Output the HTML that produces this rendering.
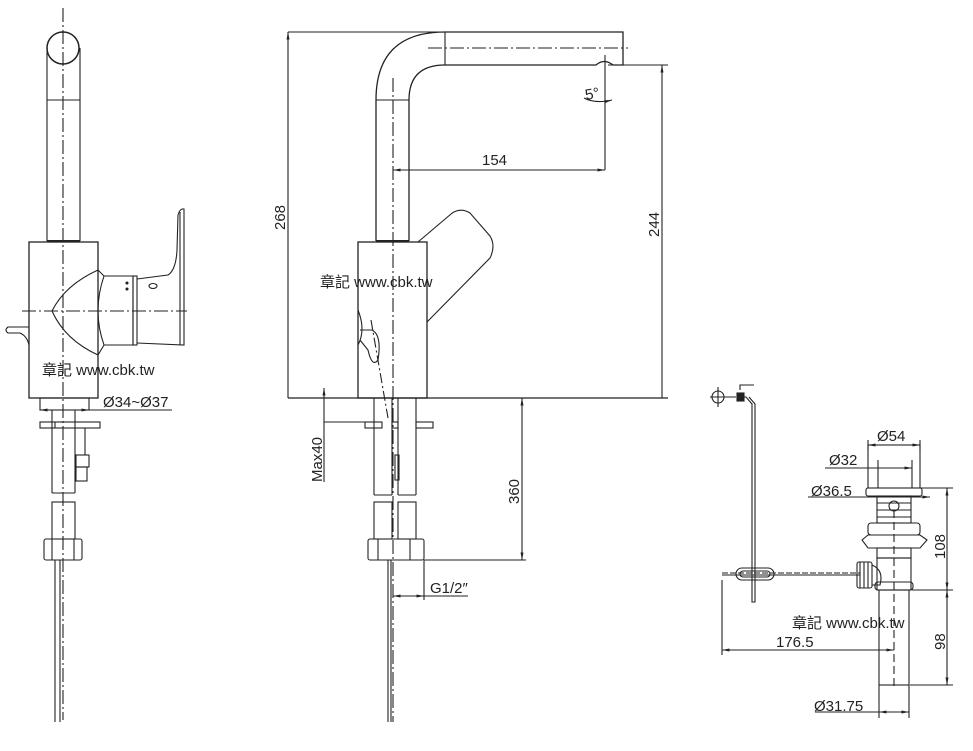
<!DOCTYPE html>
<html><head><meta charset="utf-8"><style>
html,body{margin:0;padding:0;background:#fff}
svg{display:block}
text{font-family:"Liberation Sans","Noto Sans CJK TC",sans-serif;fill:#222}
</style></head><body>
<svg width="973" height="751" viewBox="0 0 973 751" xmlns="http://www.w3.org/2000/svg">
<defs>
<marker id="a" viewBox="0 0 10 10" refX="10" refY="5" markerWidth="7" markerHeight="7" orient="auto-start-reverse"><path d="M0,3 L10,5 L0,7 z" fill="#222"/></marker>
</defs>
<g fill="none" stroke="#222" stroke-width="1.1">
<!-- LEFT VIEW -->
<circle cx="63" cy="48" r="16" stroke-width="1.5"/>
<line x1="47" y1="48" x2="47" y2="241"/><line x1="80" y1="48" x2="80" y2="241"/>
<line x1="47" y1="100" x2="80" y2="100"/>
<line x1="47" y1="241" x2="80" y2="241" stroke-width="2"/>
<rect x="29" y="242" width="69" height="156" stroke-width="1.3"/>
<line x1="63" y1="8" x2="63" y2="720" stroke-dasharray="14,3,2,3"/>
<line x1="22" y1="311" x2="187" y2="311" stroke-dasharray="14,3,2,3"/>
<path d="M98,270 Q65,285 52,311 Q65,340 98,355"/>
<path d="M98,270 L104,276 L133,276 L133,345 L104,345 L98,355"/>
<path d="M104,276 Q92,311 104,345"/>
<rect x="133" y="276" width="4" height="69"/>
<path d="M137,279 L168,275 Q176,270 177,250 L178,215 Q180,208 184,209 L184,345 L137,343"/>
<path d="M180,212 L180,345"/>
<ellipse cx="153" cy="286" rx="4" ry="2.5"/>
<circle cx="127" cy="283" r="1" fill="#222"/><circle cx="127" cy="289" r="1" fill="#222"/>
<path d="M29,327 L8,327 Q4,330 8,333 L20,333 Q27,336 29,345"/>
<rect x="40" y="398" width="49" height="12"/>
<rect x="40" y="422" width="60" height="6"/><line x1="55" y1="422" x2="55" y2="428"/>
<line x1="52" y1="410" x2="52" y2="493"/><line x1="75" y1="410" x2="75" y2="493"/><line x1="52" y1="493" x2="75" y2="493"/>
<line x1="85" y1="428" x2="85" y2="455"/>
<rect x="76" y="455" width="13" height="12"/><rect x="76" y="467" width="11" height="14"/>
<rect x="52" y="502" width="23" height="37"/>
<rect x="44" y="539" width="38" height="21" rx="2"/><line x1="52" y1="539" x2="52" y2="560"/><line x1="74" y1="539" x2="74" y2="560"/>
<line x1="55" y1="560" x2="55" y2="722"/><line x1="60" y1="560" x2="60" y2="722"/>
<line x1="40" y1="410" x2="89" y2="410" marker-start="url(#a)" marker-end="url(#a)"/>
<line x1="89" y1="410" x2="172" y2="410"/>
<!-- MIDDLE VIEW -->
<line x1="288" y1="32" x2="445" y2="32"/>
<path d="M376,241 L376,100 Q376,32 445,32 L623,32 L623,65 L613,65 Q604,58 596,65 L445,65 Q409,65 409,100 L409,241" stroke-width="1.3"/>
<line x1="445" y1="32" x2="445" y2="65"/>
<line x1="376" y1="100" x2="409" y2="100"/>
<line x1="376" y1="241" x2="409" y2="241" stroke-width="2"/>
<line x1="428" y1="48" x2="628" y2="48" stroke-dasharray="14,3,2,3"/>
<line x1="393" y1="78" x2="393" y2="722" stroke-dasharray="14,3,2,3"/>
<rect x="358" y="242" width="69" height="156" stroke-width="1.3"/>
<path d="M418,242 L451,214 Q460,207 470,213 L490,236 Q496,246 490,258 L427,322"/>
<path d="M358,310 Q366,330 358,345 M360,330 L372,330 Q382,335 378,360 Q372,368 368,350 L360,340"/>
<line x1="371" y1="320" x2="388" y2="418" stroke-dasharray="10,3,2,3"/>
<line x1="288" y1="398" x2="668" y2="398" stroke-width="1.2"/>
<line x1="288" y1="398" x2="288" y2="32" marker-end="url(#a)"/>
<line x1="605" y1="55" x2="605" y2="170"/>
<line x1="393" y1="170" x2="605" y2="170" marker-start="url(#a)" marker-end="url(#a)"/>
<path d="M584,98 Q595,104 612,100" marker-end="url(#a)"/>
<line x1="608" y1="65" x2="668" y2="65"/>
<line x1="662" y1="398" x2="662" y2="65" marker-end="url(#a)"/>
<line x1="374" y1="398" x2="374" y2="495"/><line x1="392" y1="398" x2="392" y2="495"/>
<line x1="398" y1="398" x2="398" y2="495"/><line x1="416" y1="398" x2="416" y2="495"/>
<line x1="374" y1="495" x2="392" y2="495"/><line x1="398" y1="495" x2="416" y2="495"/>
<rect x="365" y="422" width="17" height="6"/><rect x="416" y="422" width="17" height="6"/><rect x="392" y="422" width="6" height="6"/>
<rect x="395" y="455" width="4" height="25"/>
<rect x="374" y="502" width="18" height="37"/><rect x="398" y="502" width="18" height="37"/>
<rect x="368" y="539" width="56" height="21" rx="2"/><line x1="378" y1="539" x2="378" y2="560"/><line x1="410" y1="539" x2="410" y2="560"/>
<line x1="388" y1="560" x2="388" y2="722"/><line x1="391" y1="560" x2="391" y2="722"/>
<line x1="324" y1="422" x2="365" y2="422"/>
<line x1="324" y1="422" x2="324" y2="388" marker-end="url(#a)"/>
<line x1="324" y1="422" x2="324" y2="482"/>
<line x1="424" y1="560" x2="526" y2="560"/>
<line x1="522" y1="560" x2="522" y2="398" marker-start="url(#a)" marker-end="url(#a)"/>
<line x1="424" y1="560" x2="424" y2="600"/>
<line x1="393" y1="596" x2="424" y2="596" marker-start="url(#a)" marker-end="url(#a)"/>
<line x1="424" y1="596" x2="468" y2="596"/>
<!-- RIGHT VIEW -->
<circle cx="718" cy="397" r="6"/><line x1="710" y1="397" x2="736" y2="397"/><line x1="718" y1="387" x2="718" y2="407"/>
<path d="M740,390 L740,385 L754,385 M738,397 L746,397 L752,404 L752,602 L755,602 L755,404 L749,397"/>
<rect x="737" y="393" width="7" height="8" fill="#222"/>
<line x1="722" y1="573" x2="860" y2="573" stroke-dasharray="6,2"/>
<line x1="722" y1="575" x2="860" y2="575"/>
<rect x="736" y="568" width="38" height="12" rx="6"/><rect x="740" y="571" width="30" height="6" rx="3"/>
<rect x="857" y="562" width="15" height="26" rx="2"/>
<line x1="860" y1="562" x2="860" y2="588"/><line x1="864" y1="562" x2="864" y2="588"/><line x1="868" y1="562" x2="868" y2="588"/>
<path d="M872,565 Q884,570 880,585 L872,585"/>
<rect x="868" y="445" width="52" height="43"/>
<line x1="878" y1="460" x2="878" y2="488"/><line x1="912" y1="460" x2="912" y2="488"/>
<rect x="866" y="488" width="56" height="8" rx="2"/>
<rect x="877" y="496" width="34" height="27"/>
<line x1="877" y1="503" x2="911" y2="503"/><line x1="877" y1="510" x2="911" y2="510"/><line x1="877" y1="517" x2="911" y2="517"/>
<circle cx="894" cy="506" r="5"/>
<rect x="868" y="523" width="52" height="12" rx="3"/>
<path d="M862,540 L868,535 L920,535 L927,540 L920,548 L868,548 Z"/>
<rect x="877" y="548" width="34" height="10"/>
<rect x="877" y="558" width="34" height="32"/>
<rect x="875" y="582" width="38" height="8" rx="3"/>
<rect x="879" y="590" width="30" height="95"/>
<line x1="894" y1="510" x2="894" y2="690" stroke-dasharray="8,4"/>
<line x1="920" y1="488" x2="953" y2="488"/><line x1="912" y1="590" x2="953" y2="590"/><line x1="910" y1="685" x2="953" y2="685"/>
<line x1="947" y1="488" x2="947" y2="590" marker-start="url(#a)" marker-end="url(#a)"/>
<line x1="947" y1="590" x2="947" y2="685" marker-start="url(#a)" marker-end="url(#a)"/>
<line x1="868" y1="445" x2="920" y2="445" marker-start="url(#a)" marker-end="url(#a)"/>
<line x1="868" y1="440" x2="868" y2="450"/><line x1="920" y1="440" x2="920" y2="450"/>
<line x1="825" y1="468" x2="912" y2="468" marker-end="url(#a)"/>
<line x1="808" y1="497" x2="930" y2="497" marker-end="url(#a)"/>
<line x1="722" y1="580" x2="722" y2="655"/>
<line x1="722" y1="650" x2="894" y2="650" marker-start="url(#a)" marker-end="url(#a)"/>
<line x1="879" y1="685" x2="879" y2="718"/><line x1="909" y1="685" x2="909" y2="718"/>
<line x1="879" y1="712" x2="909" y2="712" marker-start="url(#a)" marker-end="url(#a)"/>
<line x1="815" y1="712" x2="879" y2="712"/>
</g>
<g font-size="15">
<text x="42" y="375">章記 www.cbk.tw</text>
<text x="103" y="407">Ø34~Ø37</text>
<text x="320" y="287">章記 www.cbk.tw</text>
<text x="482" y="165">154</text>
<text x="586" y="100" transform="rotate(-10 586 100)">5°</text>
<text transform="translate(285,230) rotate(-90)">268</text>
<text transform="translate(659,237) rotate(-90)">244</text>
<text transform="translate(322,482) rotate(-90)">Max40</text>
<text transform="translate(519,504) rotate(-90)">360</text>
<text x="430" y="593">G1/2″</text>
<text x="877" y="441">Ø54</text>
<text x="829" y="465">Ø32</text>
<text x="811" y="496">Ø36.5</text>
<text transform="translate(945,559) rotate(-90)">108</text>
<text transform="translate(945,650) rotate(-90)">98</text>
<text x="792" y="628">章記 www.cbk.tw</text>
<text x="776" y="647">176.5</text>
<text x="814" y="711">Ø31.75</text>
</g>
</svg>
</body></html>
